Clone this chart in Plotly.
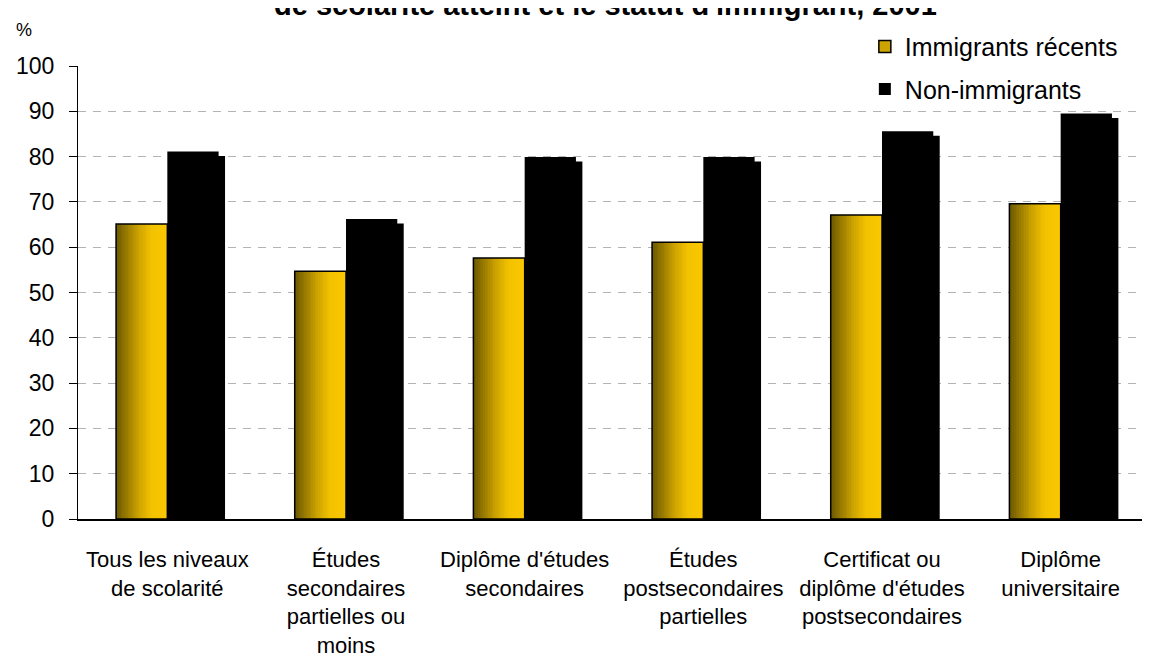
import plotly.graph_objects as go

categories = [
    "Tous les niveaux<br>de scolarité",
    "Études<br>secondaires<br>partielles ou<br>moins",
    "Diplôme d'études<br>secondaires",
    "Études<br>postsecondaires<br>partielles",
    "Certificat ou<br>diplôme d'études<br>postsecondaires",
    "Diplôme<br>universitaire",
]
immigrants_recents = [65.1, 54.7, 57.6, 61.1, 67.1, 69.6]
non_immigrants = [81.1, 66.2, 79.9, 79.9, 85.6, 89.5]
series_names = ["Immigrants récents", "Non-immigrants"]
title_line = "de scolarité atteint et le statut d'immigrant, 2001"
y_ticks = list(range(0, 101, 10))

FONT = "Liberation Sans, Arial, Helvetica, sans-serif"
W, H = 1150, 660
# page body has an 8px margin; compensate in the figure margins
ML, MR, MT, MB = 62, 8, 58, 149
plot_h = H - MT - MB
plot_w = W - ML - MR
bar_w = 0.287
shadow_dx = 0.036
shadow_dy = 4.5 / plot_h * 100  # in data units

idx = list(range(len(categories)))

# gradient stops for the yellow bars
stops = [(0.0, (104, 86, 0)), (0.45, (205, 163, 0)), (0.7, (243, 194, 0)), (1.0, (250, 200, 0))]


def grad(t):
    for (t0, c0), (t1, c1) in zip(stops[:-1], stops[1:]):
        if t <= t1:
            f = (t - t0) / (t1 - t0)
            return "rgb(%d,%d,%d)" % tuple(round(a + (b - a) * f) for a, b in zip(c0, c1))
    return "rgb(%d,%d,%d)" % stops[-1][1]


fig = go.Figure()

# shadow behind the non-immigrant bars
fig.add_trace(go.Bar(
    x=idx, y=[v - shadow_dy for v in non_immigrants], offset=shadow_dx, width=bar_w,
    marker=dict(color="black", line=dict(width=0)), showlegend=False, hoverinfo="skip"))

# yellow gradient bars as thin slices
N = 30
for k in range(N):
    fig.add_trace(go.Bar(
        x=idx, y=immigrants_recents, offset=-bar_w + k * bar_w / N,
        width=bar_w / N * 1.15 if k < N - 1 else bar_w / N,
        marker=dict(color=grad((k + 0.5) / N), line=dict(width=0)), showlegend=False, hoverinfo="skip"))

# outline of yellow bars
fig.add_trace(go.Bar(
    x=idx, y=immigrants_recents, offset=-bar_w, width=bar_w,
    marker=dict(color="rgba(0,0,0,0)", line=dict(color="black", width=1.5)),
    showlegend=False, name=series_names[0]))

# non-immigrant bars
fig.add_trace(go.Bar(
    x=idx, y=non_immigrants, offset=0, width=bar_w,
    marker=dict(color="black", line=dict(width=0)),
    name=series_names[1], legendgroup="b", legendrank=2))

# legend entry for yellow series
fig.add_trace(go.Bar(
    x=idx, y=[None] * len(idx), name=series_names[0], legendgroup="a", legendrank=1,
    marker=dict(color="rgb(205,163,0)", line=dict(color="black", width=1.5))))

title_x = (601.5 - 8 - ML) / plot_w
title_y = 1 + (MT + 3) / plot_h

fig.update_layout(
    width=W, height=H,
    margin=dict(l=ML, r=MR, t=MT, b=MB, pad=0),
    paper_bgcolor="white", plot_bgcolor="white",
    barmode="overlay",
    font=dict(family=FONT, color="black"),
    xaxis=dict(range=[-0.5, 5.5], tickmode="array", tickvals=idx, ticktext=categories,
               showgrid=False, zeroline=False, showline=True, linecolor="black", linewidth=1.5,
               ticks="", ticklabelstandoff=20, tickfont=dict(size=22, family=FONT)),
    yaxis=dict(range=[0, 100], tickmode="array", tickvals=y_ticks,
               showgrid=True, gridcolor="#b3b3b3", gridwidth=1, griddash="8px,7px",
               zeroline=False, showline=True, linecolor="black", linewidth=1,
               ticks="outside", ticklen=8, tickcolor="black", tickwidth=1,
               ticklabelstandoff=10, tickfont=dict(size=23, family=FONT)),
    legend=dict(x=0.734, y=1.093, xanchor="left", yanchor="top", bgcolor="rgba(0,0,0,0)",
                font=dict(size=25, family=FONT), tracegroupgap=7, traceorder="grouped"),
    showlegend=True,
    annotations=[
        dict(text="<b>" + title_line + "</b>", xref="paper", yref="paper",
             x=title_x, y=title_y, xanchor="center", yanchor="middle", showarrow=False,
             font=dict(size=29, family=FONT, color="black")),
        dict(text="%", xref="paper", yref="paper", x=-0.0505, y=1.08,
             xanchor="center", yanchor="middle", showarrow=False,
             font=dict(size=18, family=FONT)),
    ],
)

fig.write_html("out.html")
